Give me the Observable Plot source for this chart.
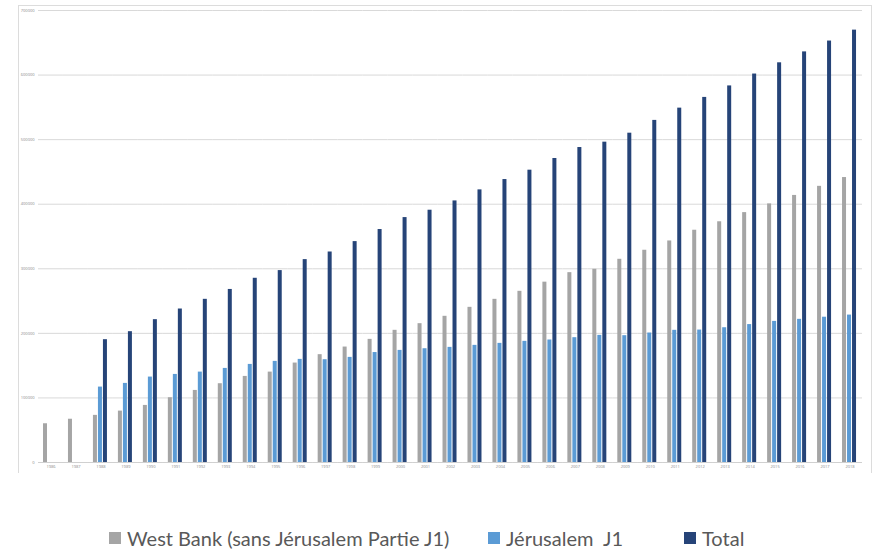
<!DOCTYPE html>
<html>
<head>
<meta charset="utf-8">
<script src="https://cdn.jsdelivr.net/npm/d3@7"></script>
<script src="https://cdn.jsdelivr.net/npm/@observablehq/plot@0.6"></script>
<style>
  html, body { margin: 0; padding: 0; background: #fff; }
  #wrap { position: relative; width: 881px; height: 551px; font-family: Lato, "Open Sans", sans-serif; }
  #frame { position: absolute; left: 18px; top: 5px; width: 852px; height: 467px; border: 1.5px solid #dcdcdc; border-bottom: none; pointer-events: none; }
  #chart { position: absolute; left: 0; top: 0; }
  .leg { position: absolute; top: 526px; height: 24px; line-height: 24px; display: flex; align-items: center; font-size: 20px; color: #595959; white-space: pre; }
  .sw { width: 12px; height: 12px; margin-right: 6px; display: inline-block; }
</style>
</head>
<body>
<div id="wrap">
  <div id="chart"></div>
  <div id="frame"></div>
</div>
<script>
const years = [1986, 1987, 1988, 1989, 1990, 1991, 1992, 1993, 1994, 1995, 1996, 1997, 1998, 1999, 2000, 2001, 2002, 2003, 2004, 2005, 2006, 2007, 2008, 2009, 2010, 2011, 2012, 2013, 2014, 2015, 2016, 2017, 2018];
const seriesNames = ["West Bank (sans Jérusalem Partie J1)", "Jérusalem  J1", "Total"];
const seriesColors = ["#a5a5a5", "#5b9bd5", "#264478"];
const westBank = [60000, 67000, 73000, 79600, 88400, 100300, 111600, 122000, 133300, 140000, 154000, 167000, 178800, 190700, 204700, 215000, 226400, 240300, 252700, 265100, 279300, 294000, 299200, 314700, 328700, 343100, 359700, 372800, 387000, 400500, 413600, 427700, 441300];
const jerusalem = [null, null, 116800, 122500, 132300, 136400, 140000, 145700, 151900, 156600, 159700, 159200, 162800, 170300, 173600, 176200, 178300, 181400, 184500, 187600, 189700, 193300, 196900, 196400, 200500, 204700, 205100, 208700, 213600, 218500, 221700, 225000, 228300];
const total = [null, null, 190200, 202600, 221200, 237700, 252700, 268000, 285300, 297200, 314200, 326000, 342100, 360800, 379300, 390700, 405100, 422200, 438200, 452700, 470800, 487800, 496100, 510000, 529800, 548800, 565400, 583200, 601600, 619000, 635900, 652700, 669600];
const yTicks = [0, 100000, 200000, 300000, 400000, 500000, 600000, 700000];

const seriesValues = [westBank, jerusalem, total];
const rows = years.flatMap((yr, i) =>
  seriesNames.map((s, k) => ({year: yr, series: s, value: seriesValues[k][i]}))
).filter(d => d.value != null);

const chart = Plot.plot({
  width: 881,
  height: 522,
  marginLeft: 38,
  marginRight: 19,
  marginTop: 10,
  marginBottom: 60,
  style: {fontFamily: "Open Sans, sans-serif", fontSize: "4px", color: "#8a8a8a", background: "transparent", overflow: "visible"},
  facet: {data: rows, x: "year"},
  fx: {domain: years, paddingInner: 0, paddingOuter: 0, label: null, tickSize: 0, tickPadding: 3, tickFormat: d => String(d)},
  x: {domain: seriesNames, paddingInner: 0.2, paddingOuter: 0.93, axis: null},
  y: {domain: [0, 700000], ticks: yTicks, tickFormat: "d", tickSize: 0, tickPadding: 4, label: null},
  color: {domain: seriesNames, range: seriesColors},
  marks: [
    Plot.ruleY(yTicks, {stroke: "#d9d9d9", strokeWidth: 1}),
    Plot.barY(rows, {x: "series", y: "value", fill: "series"}),
    Plot.ruleY([0], {stroke: "#d0d0d0", strokeWidth: 1})
  ]
});
document.getElementById("chart").appendChild(chart);

const legendLefts = [109, 488, 684];
const wrap = document.getElementById("wrap");
seriesNames.forEach((s, k) => {
  const item = document.createElement("div");
  item.className = "leg";
  item.style.left = legendLefts[k] + "px";
  const sw = document.createElement("span");
  sw.className = "sw";
  sw.style.background = seriesColors[k];
  item.appendChild(sw);
  item.appendChild(document.createTextNode(s));
  wrap.appendChild(item);
});
</script>
</body>
</html>
